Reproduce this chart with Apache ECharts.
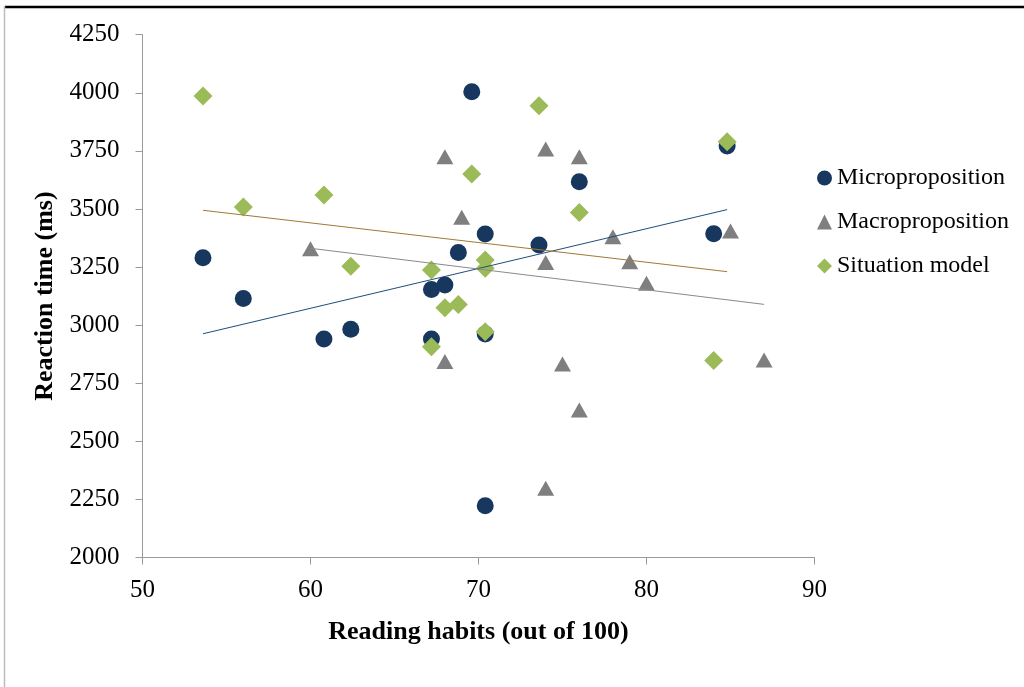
<!DOCTYPE html>
<html>
<head>
<meta charset="utf-8">
<script src="https://cdn.jsdelivr.net/npm/echarts@6/dist/echarts.min.js"></script>
<style>
  html, body { margin: 0; padding: 0; background: #ffffff; }
  #chart { width: 1024px; height: 687px; }
</style>
</head>
<body>
<div id="chart"></div>
<script>
// Reading-habit scores (shared by the micro- and situation-model measures)
const readingHabits = [53.6, 56.0, 60.8, 62.4, 67.2, 67.2, 68.0, 68.8, 69.6, 70.4, 70.4, 70.4, 73.6, 76.0, 84.0, 84.8];
// Reaction times (ms) per measure
const micropropositionRT = [3290, 3115, 2940, 2982, 2940, 3153, 3173, 3313, 4004, 3392, 2962, 2223, 3345, 3617, 3393, 3771];
const situationModelRT   = [3986, 3508, 3560, 3254, 3237, 2907, 3075, 3089, 3650, 3280, 3245, 2972, 3944, 3485, 2848, 3789];
// Macroproposition scores and reaction times
const macroHabits = [60, 68, 69, 68, 74, 74, 74, 76, 76, 75, 78, 79, 80, 85, 87];
const macroRT     = [3329, 3725, 3464, 2843, 3758, 3270, 2298, 3725, 2635, 2833, 3380, 3273, 3180, 3405, 2850];

const seriesNames = ['Microproposition', 'Macroproposition', 'Situation model'];
const xTicks = { min: 50, max: 90, step: 10 };
const yTicks = { min: 2000, max: 4250, step: 250 };

const FONT = '"Liberation Serif", "Times New Roman", serif';

function pairs(xs, ys) { return xs.map((x, i) => [x, ys[i]]); }

// Least-squares linear trend, drawn across the range of x values
function trend(xs, ys) {
  const n = xs.length;
  const mx = xs.reduce((a, b) => a + b, 0) / n;
  const my = ys.reduce((a, b) => a + b, 0) / n;
  let sxy = 0, sxx = 0;
  for (let i = 0; i < n; i++) { sxy += (xs[i] - mx) * (ys[i] - my); sxx += (xs[i] - mx) ** 2; }
  const slope = sxy / sxx, icpt = my - slope * mx;
  const x0 = Math.min(...xs), x1 = Math.max(...xs);
  return [[x0, icpt + slope * x0], [x1, icpt + slope * x1]];
}

const chart = echarts.init(document.getElementById('chart'), null, { renderer: 'canvas' });

const trendLine = (data, color) => ({
  type: 'line', data, symbol: 'none', silent: true, z: 5,
  lineStyle: { color, width: 1 }, legendHoverLink: false
});

chart.setOption({
  backgroundColor: '#ffffff',
  animation: false,
  textStyle: { fontFamily: FONT },
  grid: { left: 142.5, right: 209.5, top: 34.7, bottom: 129.5, containLabel: false },
  legend: {
    orient: 'vertical', left: 817, top: 166,
    itemWidth: 15, itemHeight: 15, itemGap: 20, padding: 0,
    data: seriesNames,
    textStyle: { fontFamily: FONT, fontSize: 24, color: '#000000' }
  },
  graphic: [
    { type: 'line', shape: { x1: 5, y1: 7, x2: 1024, y2: 7 }, style: { stroke: '#000000', lineWidth: 2.5 }, silent: true },
    { type: 'line', shape: { x1: 4.5, y1: 6, x2: 4.5, y2: 687 }, style: { stroke: '#bdbdbd', lineWidth: 1.5 }, silent: true }
  ],
  xAxis: {
    type: 'value', min: xTicks.min, max: xTicks.max, interval: xTicks.step,
    name: 'Reading habits (out of 100)', nameLocation: 'middle', nameGap: 62,
    nameTextStyle: { fontFamily: FONT, fontSize: 26, fontWeight: 'bold', color: '#000000' },
    axisLine: { show: true, lineStyle: { color: '#9a9a9a', width: 1 } },
    axisTick: { show: true, inside: false, length: 7, lineStyle: { color: '#9a9a9a' } },
    axisLabel: { fontFamily: FONT, fontSize: 25, color: '#000000', margin: 20, formatter: v => String(v) },
    splitLine: { show: false }
  },
  yAxis: {
    type: 'value', min: yTicks.min, max: yTicks.max, interval: yTicks.step,
    name: 'Reaction time (ms)', nameLocation: 'middle', nameGap: 84, nameRotate: 90,
    nameTextStyle: { fontFamily: FONT, fontSize: 26, fontWeight: 'bold', color: '#000000' },
    axisLine: { show: true, lineStyle: { color: '#9a9a9a', width: 1 } },
    axisTick: { show: true, inside: false, length: 7, lineStyle: { color: '#9a9a9a' } },
    axisLabel: { fontFamily: FONT, fontSize: 25, color: '#000000', margin: 23, formatter: v => String(v) },
    splitLine: { show: false }
  },
  series: [
    { name: seriesNames[0], type: 'scatter', symbol: 'circle', symbolSize: 17, z: 2,
      itemStyle: { color: '#17375E', opacity: 1 }, data: pairs(readingHabits, micropropositionRT) },
    { name: seriesNames[1], type: 'scatter', symbol: 'triangle', symbolSize: [17, 15], z: 3,
      itemStyle: { color: '#7F7F7F', opacity: 1 }, data: pairs(macroHabits, macroRT) },
    { name: seriesNames[2], type: 'scatter', symbol: 'diamond', symbolSize: [19, 19], z: 4,
      itemStyle: { color: '#9BBB59', opacity: 1 }, data: pairs(readingHabits, situationModelRT) },
    trendLine(trend(readingHabits, micropropositionRT), '#1F4E79'),
    trendLine(trend(macroHabits, macroRT), '#8A8A8A'),
    trendLine(trend(readingHabits, situationModelRT), '#A07A35')
  ]
});
</script>
</body>
</html>
